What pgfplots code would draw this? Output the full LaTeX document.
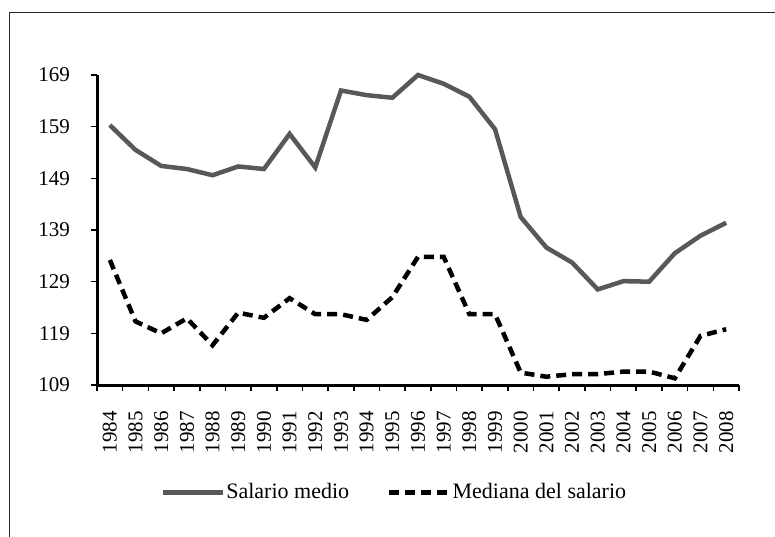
\documentclass[border=0pt]{standalone}
\usepackage{fontspec}
\setmainfont{Liberation Serif}
\usepackage{pgfplots}
\pgfplotsset{compat=1.18}
\definecolor{meangray}{RGB}{88,88,88}
\begin{document}
\fontsize{21pt}{25pt}\selectfont
\begin{tikzpicture}[x=1pt,y=1pt]
\useasboundingbox (0,0) rectangle (775,536);
\draw[line width=1.6pt, color=black!85] (9.3,-5) -- (9.3,523.3) -- (780,523.3);
\begin{axis}[
  at={(97pt,151pt)}, anchor=south west,
  scale only axis, width=642pt, height=310pt,
  xmin=-0.5, xmax=24.5, ymin=109, ymax=169,
  axis lines=left,
  axis line style={-, line width=3pt, black},
  every outer x axis line/.append style={line width=3pt},
  every outer y axis line/.append style={line width=3pt},
  ytick={109,119,...,169},
  xtick={0,...,24},
  xticklabels={1984,1985,1986,1987,1988,1989,1990,1991,1992,1993,1994,1995,1996,1997,1998,1999,2000,2001,2002,2003,2004,2005,2006,2007,2008},
  x tick label style={rotate=90, anchor=east, xshift=-13pt},
  major x tick style={draw=none},
  minor xtick={-0.5,0.5,...,24.5},
  minor tick length=6pt,
  major tick length=6pt,
  tick align=outside,
  tick style={line width=1.6pt, black},
  /pgf/number format/assume math mode=true,
  yticklabel style={xshift=-14pt},
  clip=false,
  legend columns=2,
  legend style={draw=none, fill=none, at={(0.4626,-0.346)}, anchor=center,
    font=\fontsize{22pt}{26pt}\selectfont,
    /tikz/every even column/.append style={column sep=36pt},
    nodes={inner sep=1.5pt, anchor=west}},
  legend image code/.code={\draw[#1] (0pt,0pt) -- (60pt,0pt);},
]
\addplot[color=meangray, line width=4.5pt] coordinates {
(0,159.3)(1,154.5)(2,151.4)(3,150.8)(4,149.6)(5,151.3)(6,150.8)(7,157.6)(8,151.1)(9,166.0)(10,165.1)(11,164.6)(12,169.0)(13,167.3)(14,164.8)(15,158.5)(16,141.5)(17,135.6)(18,132.7)(19,127.5)(20,129.1)(21,129.0)(22,134.5)(23,137.9)(24,140.4)};
\addlegendentry{Salario medio}
\addplot[color=black, line width=4.5pt, dash pattern=on 10pt off 6pt] coordinates {
(0,133.2)(1,121.3)(2,119.0)(3,121.9)(4,116.7)(5,123.0)(6,122.0)(7,125.8)(8,122.7)(9,122.7)(10,121.6)(11,126.0)(12,133.8)(13,133.8)(14,122.7)(15,122.7)(16,111.4)(17,110.6)(18,111.1)(19,111.1)(20,111.6)(21,111.6)(22,110.3)(23,118.5)(24,119.8)};
\addlegendentry{Mediana del salario}
\end{axis}
\end{tikzpicture}
\end{document}
